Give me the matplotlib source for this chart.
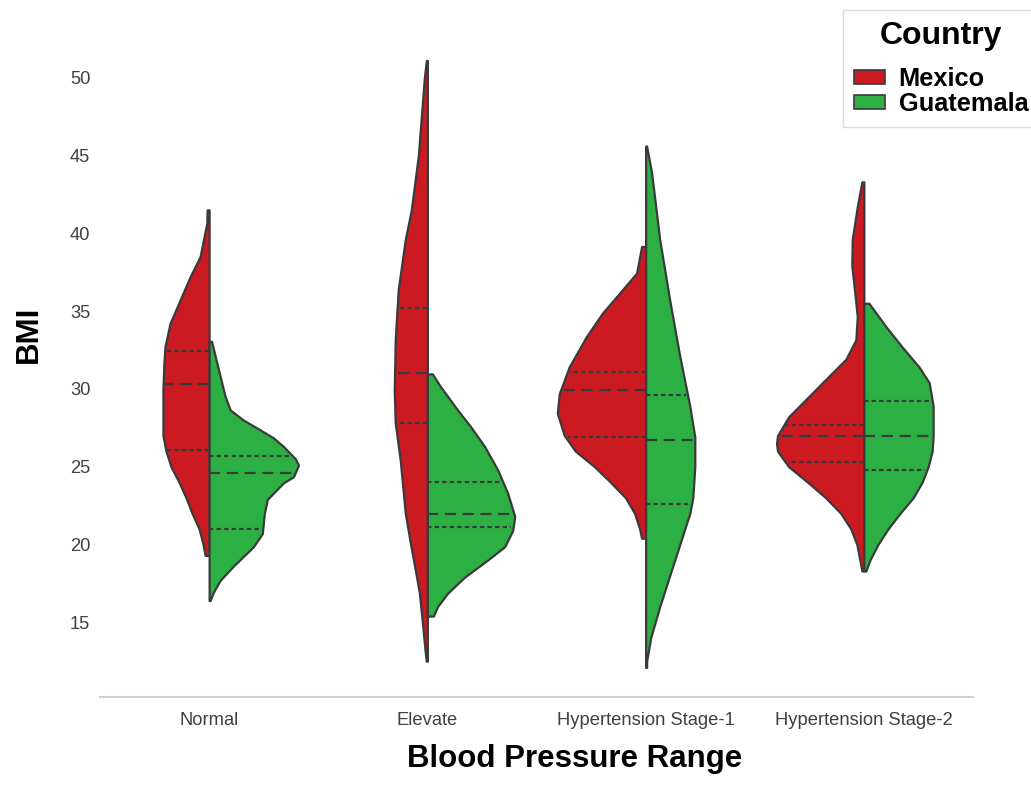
import matplotlib.pyplot as plt
import numpy as np
from matplotlib.patches import Patch

plt.rcParams['font.family'] = ['Liberation Sans', 'DejaVu Sans']

categories = ['Normal', 'Elevate', 'Hypertension Stage-1', 'Hypertension Stage-2']
countries = ['Mexico', 'Guatemala']
colors = {'Mexico': '#cc1a22', 'Guatemala': '#2db043'}

# Violin outlines: BMI level and half width (density)
normal_mex_bmi = [19.3, 20, 21, 22, 23, 24, 25, 26, 27, 30, 31.7, 32.7, 34.2, 35.7, 37.2, 38.5, 40.66, 41.5]
normal_mex_w = [0.04, 0.06, 0.10, 0.17, 0.23, 0.30, 0.38, 0.43, 0.46, 0.46, 0.45, 0.44, 0.39, 0.29, 0.19, 0.09, 0.023, 0.02]
normal_gua_bmi = [16.4, 16.9, 17.7, 18.6, 19.85, 20.7, 22.0, 22.9, 23.96, 24.35, 25.1, 25.5, 26.3, 26.85, 27.36, 28.0, 28.65, 29.5, 31.65, 33.05]
normal_gua_w = [0.01, 0.04, 0.11, 0.24, 0.44, 0.53, 0.55, 0.58, 0.74, 0.84, 0.89, 0.86, 0.74, 0.64, 0.51, 0.34, 0.21, 0.16, 0.077, 0.025]

elev_mex_bmi = [12.5, 13, 15, 16.9, 18, 20.1, 22, 25.4, 27.8, 29.9, 33.2, 36.4, 39.6, 41.5, 43.5, 45, 50, 51.1]
elev_mex_w = [0.01, 0.02, 0.05, 0.08, 0.11, 0.17, 0.22, 0.27, 0.32, 0.33, 0.32, 0.29, 0.22, 0.16, 0.12, 0.09, 0.03, 0.01]
elev_gua_bmi = [15.4, 16.0, 16.86, 17.9, 19.0, 19.86, 20.9, 21.8, 23.3, 24.8, 26.3, 27.58, 28.65, 30.15, 30.96]
elev_gua_w = [0.06, 0.10, 0.20, 0.37, 0.60, 0.77, 0.85, 0.87, 0.80, 0.70, 0.57, 0.43, 0.30, 0.13, 0.05]

hs1_mex_bmi = [20.4, 21, 22, 23, 24, 25, 26, 27, 28.44, 29.7, 31.43, 33.36, 34.87, 36.15, 37.44, 39.15]
hs1_mex_w = [0.04, 0.06, 0.11, 0.20, 0.35, 0.51, 0.70, 0.81, 0.88, 0.86, 0.76, 0.59, 0.43, 0.26, 0.09, 0.04]
hs1_gua_bmi = [12.1, 12.5, 14, 16, 18, 20, 21, 22, 23, 25, 26.9, 28.9, 32.1, 35.7, 39.6, 43.87, 45.6]
hs1_gua_w = [0.01, 0.01, 0.05, 0.14, 0.24, 0.34, 0.39, 0.44, 0.47, 0.49, 0.49, 0.44, 0.34, 0.24, 0.14, 0.06, 0.01]

hs2_mex_bmi = [18.3, 19, 20, 21, 22, 23, 24, 25, 26, 26.5, 27, 28.2, 29.5, 30.8, 31.9, 33.15, 34.65, 36.15, 37.9, 39.6, 41.7, 43.3]
hs2_mex_w = [0.02, 0.04, 0.07, 0.13, 0.23, 0.38, 0.56, 0.75, 0.86, 0.87, 0.86, 0.75, 0.55, 0.35, 0.18, 0.08, 0.066, 0.09, 0.12, 0.116, 0.066, 0.02]
hs2_gua_bmi = [18.3, 19, 20, 21, 22, 23, 24, 25, 26, 27, 28, 28.9, 30.4, 31.4, 32.7, 34.0, 35.5]
hs2_gua_w = [0.02, 0.06, 0.14, 0.24, 0.36, 0.49, 0.58, 0.64, 0.68, 0.69, 0.69, 0.69, 0.65, 0.55, 0.38, 0.22, 0.05]

# quartiles (q1, median, q3)
normal_mex_q = [26.1, 30.3, 32.4]
normal_gua_q = [21.0, 24.6, 25.7]
elev_mex_q = [27.8, 31.0, 35.2]
elev_gua_q = [21.15, 21.96, 24.04]
hs1_mex_q = [26.9, 29.9, 31.1]
hs1_gua_q = [22.6, 26.7, 29.6]
hs2_mex_q = [25.3, 27.0, 27.7]
hs2_gua_q = [24.8, 27.0, 29.2]

violins = {
    ('Normal', 'Mexico'): (normal_mex_bmi, normal_mex_w, normal_mex_q),
    ('Normal', 'Guatemala'): (normal_gua_bmi, normal_gua_w, normal_gua_q),
    ('Elevate', 'Mexico'): (elev_mex_bmi, elev_mex_w, elev_mex_q),
    ('Elevate', 'Guatemala'): (elev_gua_bmi, elev_gua_w, elev_gua_q),
    ('Hypertension Stage-1', 'Mexico'): (hs1_mex_bmi, hs1_mex_w, hs1_mex_q),
    ('Hypertension Stage-1', 'Guatemala'): (hs1_gua_bmi, hs1_gua_w, hs1_gua_q),
    ('Hypertension Stage-2', 'Mexico'): (hs2_mex_bmi, hs2_mex_w, hs2_mex_q),
    ('Hypertension Stage-2', 'Guatemala'): (hs2_gua_bmi, hs2_gua_w, hs2_gua_q),
}

scale = 0.46  # density -> x units
edge = '#3a3a3a'

fig = plt.figure(figsize=(10.31, 7.92), dpi=100)
ax = fig.add_axes([100 / 1031, 95 / 792, 873 / 1031, 677 / 792])

for i, cat in enumerate(categories):
    for country in countries:
        bmi, dens, quart = violins[(cat, country)]
        b = np.array(bmi)
        w = np.array(dens) * scale
        sign = -1 if country == 'Mexico' else 1
        ax.fill_betweenx(b, i + sign * w, i, facecolor=colors[country],
                         edgecolor=edge, linewidth=1.6, joinstyle='round', zorder=2)
        # quartile lines: median dashed, the other two dotted
        for k, q in enumerate(quart):
            wq = np.interp(q, b, w) * 0.97
            ls = (0, (5, 3)) if k == 1 else (0, (2, 1.4))
            ax.plot([i, i + sign * wq], [q, q], color=edge, linewidth=1.6,
                    linestyle=ls, zorder=3)

ax.set_xlim(-0.5, 3.5)
ax.set_ylim(10.2, 53.7)
ax.set_xticks(range(len(categories)))
ax.set_xticklabels(categories)
ax.set_yticks([15, 20, 25, 30, 35, 40, 45, 50])
ax.tick_params(length=0, labelsize=13.2, labelcolor='#404040')
ax.tick_params(axis='x', pad=11)
ax.tick_params(axis='y', pad=7)

for s in ['top', 'right', 'left']:
    ax.spines[s].set_visible(False)
ax.spines['bottom'].set_color('#cfcfcf')
ax.spines['bottom'].set_linewidth(1.5)

ax.set_xlabel('Blood Pressure Range', fontsize=22.5, fontweight='bold', va='baseline')
ax.xaxis.set_label_coords(0.544, -0.1034)
ax.set_ylabel('BMI', fontsize=22.5, fontweight='bold', va='baseline')
ax.yaxis.set_label_coords(-0.0722, 0.535)

handles = [Patch(facecolor=colors[c], edgecolor=edge, linewidth=1.2, label=c) for c in countries]
leg = fig.legend(handles=handles, title='Country', loc='upper left',
                 bbox_to_anchor=(843 / 1031, 1 - 10 / 792), borderaxespad=0,
                 prop={'size': 18.3, 'weight': 'bold'},
                 title_fontproperties={'size': 23, 'weight': 'bold'},
                 handlelength=1.22, handleheight=0.47, handletextpad=0.55,
                 labelspacing=0.03, borderpad=0.42, fancybox=False,
                 edgecolor='#dddddd', framealpha=1)
# a bit more room between the title and the entries
leg._legend_box.sep = 12

fig.savefig('out.png', dpi=100)
